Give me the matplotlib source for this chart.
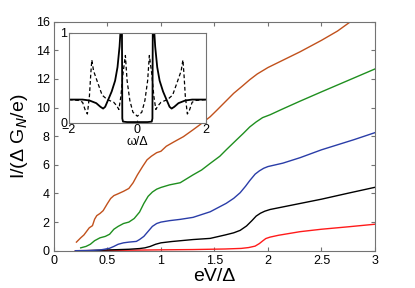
import numpy as np
import matplotlib
matplotlib.use("Agg")
import matplotlib.pyplot as plt

plt.rcParams["font.family"] = ["Liberation Sans", "DejaVu Sans"]

# I-V curves
ev_red = [0.2, 0.5, 1.0, 1.3, 1.6, 1.75, 1.82, 1.88, 1.92, 1.95, 1.98, 2.02, 2.1, 2.3, 2.5, 2.75, 3.0]
i_red = [0.0, 0.02, 0.06, 0.08, 0.12, 0.16, 0.22, 0.32, 0.5, 0.68, 0.85, 0.95, 1.08, 1.33, 1.5, 1.67, 1.85]

ev_black = [0.3, 0.5, 0.7, 0.8, 0.85, 0.9, 0.95, 1.0, 1.1, 1.3, 1.46, 1.6, 1.68, 1.74, 1.8, 1.85,
            1.89, 1.93, 1.97, 2.02, 2.2, 2.5, 2.75, 3.0]
i_black = [0.0, 0.05, 0.1, 0.15, 0.2, 0.3, 0.45, 0.55, 0.64, 0.78, 0.86, 1.1, 1.25, 1.42, 1.73, 2.1,
           2.42, 2.62, 2.76, 2.88, 3.15, 3.6, 4.02, 4.43]

ev_blue = [0.2, 0.35, 0.43, 0.47, 0.52, 0.56, 0.6, 0.65, 0.7, 0.77, 0.8, 0.84, 0.88, 0.92, 0.96, 1.0,
           1.08, 1.18, 1.3, 1.46, 1.61, 1.68, 1.74, 1.79, 1.83, 1.88, 1.92, 1.96, 2.0, 2.14, 2.3, 2.5,
           2.8, 3.0]
i_blue = [0.0, 0.02, 0.05, 0.1, 0.17, 0.3, 0.45, 0.55, 0.6, 0.65, 0.78, 1.0, 1.35, 1.7, 1.9, 2.0,
          2.1, 2.19, 2.33, 2.72, 3.31, 3.66, 4.05, 4.5, 4.9, 5.35, 5.58, 5.76, 5.88, 6.12, 6.5, 7.05,
          7.75, 8.25]

ev_green = [0.25, 0.3, 0.34, 0.38, 0.43, 0.48, 0.52, 0.56, 0.6, 0.65, 0.7, 0.75, 0.8, 0.84, 0.88,
            0.92, 0.96, 1.0, 1.08, 1.18, 1.3, 1.38, 1.46, 1.55, 1.61, 1.7, 1.77, 1.83, 1.89, 1.95,
            2.02, 2.13, 2.3, 2.5, 2.75, 3.0]
i_green = [0.2, 0.3, 0.45, 0.7, 0.9, 1.0, 1.15, 1.5, 1.7, 1.9, 2.0, 2.25, 2.7, 3.3, 3.8,
           4.1, 4.3, 4.42, 4.6, 4.75, 5.3, 5.64, 6.1, 6.6, 7.05, 7.7, 8.2, 8.65, 9.0, 9.3,
           9.5, 9.88, 10.45, 11.1, 11.9, 12.7]

ev_orange = [0.21, 0.25, 0.28, 0.31, 0.33, 0.36, 0.38, 0.4, 0.43, 0.46, 0.5, 0.53, 0.56, 0.6, 0.65,
             0.7, 0.74, 0.78, 0.83, 0.87, 0.91, 0.96, 1.0, 1.05, 1.12, 1.21, 1.3, 1.36, 1.46, 1.52,
             1.6, 1.68, 1.76, 1.83, 1.9, 2.0, 2.15, 2.3, 2.5, 2.65, 2.78]
i_orange = [0.6, 0.9, 1.1, 1.4, 1.6, 1.75, 2.2, 2.45, 2.6, 2.8, 3.3, 3.65, 3.85, 3.98, 4.15,
            4.35, 4.75, 5.3, 5.9, 6.35, 6.6, 6.85, 6.95, 7.3, 7.6, 7.97, 8.45, 8.78, 9.36, 9.8,
            10.4, 11.0, 11.5, 11.95, 12.35, 12.8, 13.35, 13.9, 14.7, 15.35, 16.05]

# inset: density of states
w_solid = [-2.0, -1.6, -1.4, -1.2, -1.08, -1.0, -0.94, -0.85, -0.75, -0.65, -0.58, -0.52, -0.48,
           -0.455, -0.44, -0.42, -0.3, 0.0, 0.3, 0.42, 0.44, 0.455, 0.48, 0.52, 0.58, 0.65, 0.75,
           0.85, 0.94, 1.0, 1.08, 1.2, 1.4, 1.6, 2.0]
d_solid = [0.26, 0.26, 0.25, 0.22, 0.18, 0.16, 0.18, 0.26, 0.35, 0.47, 0.62, 0.85, 1.1,
           1.5, 0.05, 0.015, 0.01, 0.01, 0.01, 0.015, 0.05, 1.5, 1.1, 0.85, 0.62, 0.47, 0.35,
           0.26, 0.18, 0.16, 0.18, 0.22, 0.25, 0.26, 0.26]

w_dash = [-2.0, -1.7, -1.6, -1.52, -1.46, -1.4, -1.36, -1.33, -1.28, -1.17, -1.03, -0.88, -0.69,
          -0.6, -0.54, -0.48, -0.42, -0.35, -0.3, -0.22, -0.13, 0.0, 0.13, 0.22, 0.3, 0.35, 0.42,
          0.48, 0.54, 0.6, 0.69, 0.88, 1.03, 1.17, 1.28, 1.33, 1.36, 1.4, 1.46, 1.52, 1.6, 1.7, 2.0]
d_dash = [0.26, 0.25, 0.23, 0.14, 0.10, 0.3, 0.55, 0.70, 0.58, 0.46, 0.31, 0.26, 0.23,
          0.19, 0.15, 0.3, 0.55, 0.75, 0.47, 0.25, 0.12, 0.075, 0.12, 0.25, 0.47, 0.75, 0.55,
          0.3, 0.15, 0.19, 0.23, 0.26, 0.31, 0.46, 0.58, 0.70, 0.55, 0.3, 0.10, 0.14, 0.23, 0.25, 0.26]

spine_col = "0.45"

fig = plt.figure(figsize=(4.15, 2.88), dpi=100)
ax = fig.add_axes([0.130, 0.1295, 0.7735, 0.795])

ax.plot(ev_red, i_red, color="#ff1a1a", lw=1.0)
ax.plot(ev_black, i_black, color="black", lw=1.0)
ax.plot(ev_blue, i_blue, color="#2a3da8", lw=1.0)
ax.plot(ev_green, i_green, color="#1f8f1f", lw=1.0)
ax.plot(ev_orange, i_orange, color="#c1511c", lw=1.0)

ax.set_xlim(0, 3)
ax.set_ylim(0, 16)
ax.set_xticks([0, 0.5, 1, 1.5, 2, 2.5, 3])
ax.set_xticklabels(["0", "0.5", "1", "1.5", "2", "2.5", "3"])
ax.set_yticks(range(0, 17, 2))
ax.tick_params(direction="in", top=True, right=True, length=3, color=spine_col,
               labelsize=9, pad=3)
for s in ax.spines.values():
    s.set_color(spine_col)
ax.set_xlabel("eV/Δ", fontsize=14, labelpad=1)
ax.set_ylabel("I/(Δ G$_N$/e)", fontsize=14, labelpad=4)

# inset
ins = fig.add_axes([0.166, 0.573, 0.330, 0.3125])
ins.plot(w_solid, d_solid, color="black", lw=1.3)
ins.plot(w_dash, d_dash, color="black", lw=0.9, ls=(0, (3, 2)))
ins.set_xlim(-2, 2)
ins.set_ylim(0, 1)
ins.set_xticks([-2, 0, 2])
ins.set_yticks([0, 1])
ins.tick_params(direction="in", length=2, color=spine_col, labelsize=9, pad=1)
for s in ins.spines.values():
    s.set_color(spine_col)
ins.set_xlabel("ω/Δ", fontsize=9, labelpad=0)

fig.savefig("out.png", dpi=100)
